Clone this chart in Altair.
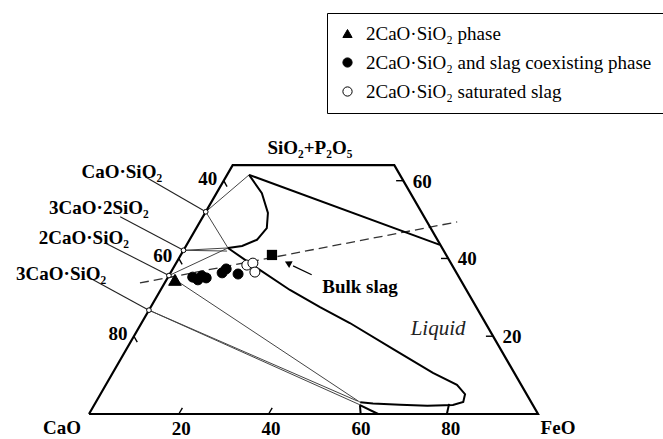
import altair as alt
import numpy as np
import pandas as pd

# ---------------- data (wt%: FeO, SiO2+P2O5; CaO = 100 - FeO - SiO2) ----------------
S = np.sqrt(3) / 2
PX = 4.49  # pixels per wt% unit (used only to convert label offsets)

frame_feo = [0, 100, 36, 0, 0]
frame_sio2 = [0, 0, 64, 64, 0]

# liquidus boundaries
upper_feo = [4.9, 56.4]
upper_sio2 = [61.5, 43.5]
loop_feo = [4.9, 10.1, 14.0, 15.7, 15.0, 12.5, 9.6]
loop_sio2 = [61.5, 56.8, 51.7, 47.8, 44.8, 43.2, 42.7]
lower_feo = [9.6, 16.4, 28.8, 37.7, 46.4, 59.4, 71.3, 78.2, 81.2, 81.8, 79.9, 74.3, 68.1, 61.9, 58.9]
lower_sio2 = [42.7, 38.8, 31.9, 27.5, 23.4, 16.7, 10.6, 7.5, 5.1, 3.1, 2.3, 2.1, 2.4, 2.7, 3.0]
wedge_feo = [[59.2, 60.5], [59.2, 64.4]]
wedge_sio2 = [[2.3, 0.0], [2.3, 0.0]]
fe_line_feo = [78.9, 79.7]
fe_line_sio2 = [2.6, 0.0]

# compounds on CaO-SiO2 side (SiO2 wt%)
comp_names = ["CaO·SiO₂", "3CaO·2SiO₂", "2CaO·SiO₂", "3CaO·SiO₂"]
comp_sio2 = [52.0, 42.1, 35.6, 26.7]
comp_label_feo = [-23.8, -24.3, -23.8, -24.2]
comp_label_sio2 = [62.2, 53.0, 45.3, 36.0]
leader_feo = [-18.0, -18.4, -18.4, -17.3]
leader_sio2 = [61.0, 50.7, 44.0, 35.0]

# tie lines (from, to)
tie_from_feo = [0, 0, 0, 0, 0, 0, 0, 0]
tie_from_sio2 = [52.0, 52.0, 42.1, 42.1, 35.6, 35.6, 26.7, 26.7]
tie_to_feo = [4.9, 9.6, 9.6, 9.8, 9.6, 58.9, 58.2, 59.8]
tie_to_sio2 = [61.5, 42.7, 42.7, 41.9, 42.7, 3.0, 3.3, 2.1]

# dashed line through 2CaO·SiO2 and bulk slag
dash_feo = [-5.5, 57.3]
dash_sio2 = [33.7, 49.4]

# experimental points
phases = ["2CaO·SiO₂ phase", "2CaO·SiO₂ and slag coexisting phase", "2CaO·SiO₂ saturated slag"]
pt_phase = [0, 1, 1, 1, 1, 1, 1, 1, 2, 2, 2]
pt_feo = [1.9, 5.5, 7.0, 7.4, 8.6, 11.5, 11.9, 15.2, 16.0, 17.1, 18.7]
pt_sio2 = [34.5, 35.2, 34.5, 35.5, 35.0, 36.3, 37.3, 36.0, 38.3, 38.8, 36.5]

bulk_feo = [20.3]
bulk_sio2 = [40.9]

arrow_feo = [31.7, 26.4]
arrow_sio2 = [35.8, 38.1]
arrow_head = (24.9, 38.8)

bottom_labels = [20, 40, 60, 80]
bottom_ticks = [20, 40]
left_labels = [40, 60, 80]      # CaO
right_labels = [20, 40, 60]     # SiO2+P2O5

SERIF = "Liberation Serif"

# ---------------- helpers ----------------
def cart(feo, sio2):
    feo = np.asarray(feo, float)
    sio2 = np.asarray(sio2, float)
    return feo + sio2 / 2, sio2 * S

def path_df(paths):
    rows = []
    for k, (f, s) in enumerate(paths):
        x, y = cart(f, s)
        for i, (xx, yy) in enumerate(zip(np.atleast_1d(x), np.atleast_1d(y))):
            rows.append({"seg": k, "ord": i, "x": float(xx), "y": float(yy)})
    return pd.DataFrame(rows)

xs = alt.Scale(domain=[-89 / PX, (663 - 89) / PX], nice=False, zero=False)
ys = alt.Scale(domain=[-25 / PX, 414 / PX], nice=False, zero=False)
X = lambda f="x": alt.X(f"{f}:Q", scale=xs, axis=None)
Y = lambda f="y": alt.Y(f"{f}:Q", scale=ys, axis=None)

def lines(paths, **mk):
    return alt.Chart(path_df(paths)).mark_line(**mk).encode(
        x=X(), y=Y(), detail="seg:N", order="ord:Q")

# frame + ticks
tick_paths = []
for v in bottom_ticks:
    tick_paths.append(([v, v], [0, 1.6]))
for v in left_labels:
    tick_paths.append(([0, 1.5], [100 - v, 100 - v - 1.5]))
for v in right_labels:
    tick_paths.append(([100 - v, 100 - v - 1.6], [v, v]))

frame = lines([(frame_feo, frame_sio2)], color="black", strokeWidth=2.2, strokeJoin="miter")
ticks = lines(tick_paths, color="black", strokeWidth=1.4)

thick = lines([(upper_feo, upper_sio2), (loop_feo, loop_sio2), (lower_feo, lower_sio2),
               (wedge_feo[0], wedge_sio2[0]), (wedge_feo[1], wedge_sio2[1]),
               (fe_line_feo, fe_line_sio2)],
              color="black", strokeWidth=2.0)

tie_paths = [([a, c], [b, d]) for a, b, c, d in zip(tie_from_feo, tie_from_sio2, tie_to_feo, tie_to_sio2)]
ties = lines(tie_paths, color="#444444", strokeWidth=1.0)

leader_paths = [([lf, 0], [ls, cs]) for lf, ls, cs in zip(leader_feo, leader_sio2, comp_sio2)]
leaders = lines(leader_paths, color="#222222", strokeWidth=1.1)

dashed = lines([(dash_feo, dash_sio2)], color="#333333", strokeWidth=1.3, strokeDash=[9, 5])
arrow = lines([(arrow_feo, arrow_sio2)], color="black", strokeWidth=1.2)

hx, hy = cart([arrow_head[0]], [arrow_head[1]])
head = alt.Chart(pd.DataFrame({"x": hx, "y": hy})).mark_point(
    shape="triangle-up", filled=True, color="black", size=60, angle=297, opacity=1
).encode(x=X(), y=Y())

cx, cy = cart([0] * len(comp_sio2), comp_sio2)
comp_pts = alt.Chart(pd.DataFrame({"x": cx, "y": cy})).mark_point(
    shape="circle", filled=True, fill="white", stroke="black", strokeWidth=1, size=22, opacity=1
).encode(x=X(), y=Y())

px_, py_ = cart(pt_feo, pt_sio2)
pts_df = pd.DataFrame({"x": px_, "y": py_, "phase": [phases[i] for i in pt_phase]})

legend = alt.Legend(
    title=None, orient="none", legendX=327, legendY=13, padding=11,
    strokeColor="black", fillColor="white", cornerRadius=0,
    labelFont=SERIF, labelFontSize=19, labelColor="black", labelLimit=500,
    rowPadding=9, labelOffset=9, symbolSize=85, symbolStrokeWidth=1,
)
shape_enc = alt.Shape("phase:N", scale=alt.Scale(domain=phases, range=["triangle-up", "circle", "circle"]),
                      legend=legend)
fill_enc = alt.Fill("phase:N", scale=alt.Scale(domain=phases, range=["black", "black", "white"]),
                    legend=legend)
stroke_enc = alt.Stroke("phase:N", scale=alt.Scale(domain=phases, range=["black", "black", "black"]),
                        legend=legend)

tri_layer = alt.Chart(pts_df[pts_df["phase"] == phases[0]]).mark_point(
    filled=True, strokeWidth=1, opacity=1, size=160
).encode(x=X(), y=Y(), shape=shape_enc, fill=fill_enc, stroke=stroke_enc)
circ_layer = alt.Chart(pts_df[pts_df["phase"] != phases[0]]).mark_point(
    filled=True, strokeWidth=1, opacity=1, size=100
).encode(x=X(), y=Y(), shape=shape_enc, fill=fill_enc, stroke=stroke_enc)

bx, by = cart(bulk_feo, bulk_sio2)
bulk = alt.Chart(pd.DataFrame({"x": bx, "y": by})).mark_point(
    shape="square", filled=True, color="black", size=105, opacity=1
).encode(x=X(), y=Y())

# ---------------- texts ----------------
txt_rows = []
for name, f, s in zip(comp_names, comp_label_feo, comp_label_sio2):
    x, y = cart(f, s)
    txt_rows.append({"t": name, "x": float(x), "y": float(y)})
for t, f, s in [("Bulk slag", 44.0, 32.7), ("SiO₂+P₂O₅", 15.0, 68.4)]:
    x, y = cart(f, s)
    txt_rows.append({"t": t, "x": float(x), "y": float(y)})
for t, f, s, dx, dy in [("CaO", 0, 0, -27, 14), ("FeO", 100, 0, 20, 14)]:
    x, y = cart(f, s)
    txt_rows.append({"t": t, "x": float(x) + dx / PX, "y": float(y) - dy / PX})
for v in bottom_labels:
    x, y = cart(v, 0)
    txt_rows.append({"t": str(v), "x": float(x) + 2.5 / PX, "y": float(y) - 15 / PX})
for v in left_labels:
    x, y = cart(0, 100 - v)
    txt_rows.append({"t": str(v), "x": float(x) - 16 / PX, "y": float(y) + 2 / PX})
for v in right_labels:
    x, y = cart(100 - v, v)
    txt_rows.append({"t": str(v), "x": float(x) + 19 / PX, "y": float(y) - 1 / PX})

bold_text = alt.Chart(pd.DataFrame(txt_rows)).mark_text(
    font=SERIF, fontWeight="bold", fontSize=19, color="black", baseline="middle", align="center"
).encode(x=X(), y=Y(), text="t:N")

lx, ly = cart([66.8], [21.9])
liquid = alt.Chart(pd.DataFrame({"x": lx, "y": ly, "t": ["Liquid"]})).mark_text(
    font=SERIF, fontStyle="italic", fontSize=21, color="#222222", baseline="middle", align="center"
).encode(x=X(), y=Y(), text="t:N")

chart = alt.layer(
    ties, leaders, dashed, frame, ticks, thick, arrow, head, comp_pts, tri_layer, circ_layer, bulk,
    bold_text, liquid
).properties(
    width=663, height=439, autosize=alt.AutoSizeParams(type="none"),
    padding={"left": 0, "top": 0, "right": 0, "bottom": 0},
).configure(font=SERIF).configure_view(stroke=None).configure_legend(
    labelFont=SERIF, labelFontSize=19, labelColor="black",
)

chart.save("out.html", embed_options={"renderer": "svg", "actions": False})
